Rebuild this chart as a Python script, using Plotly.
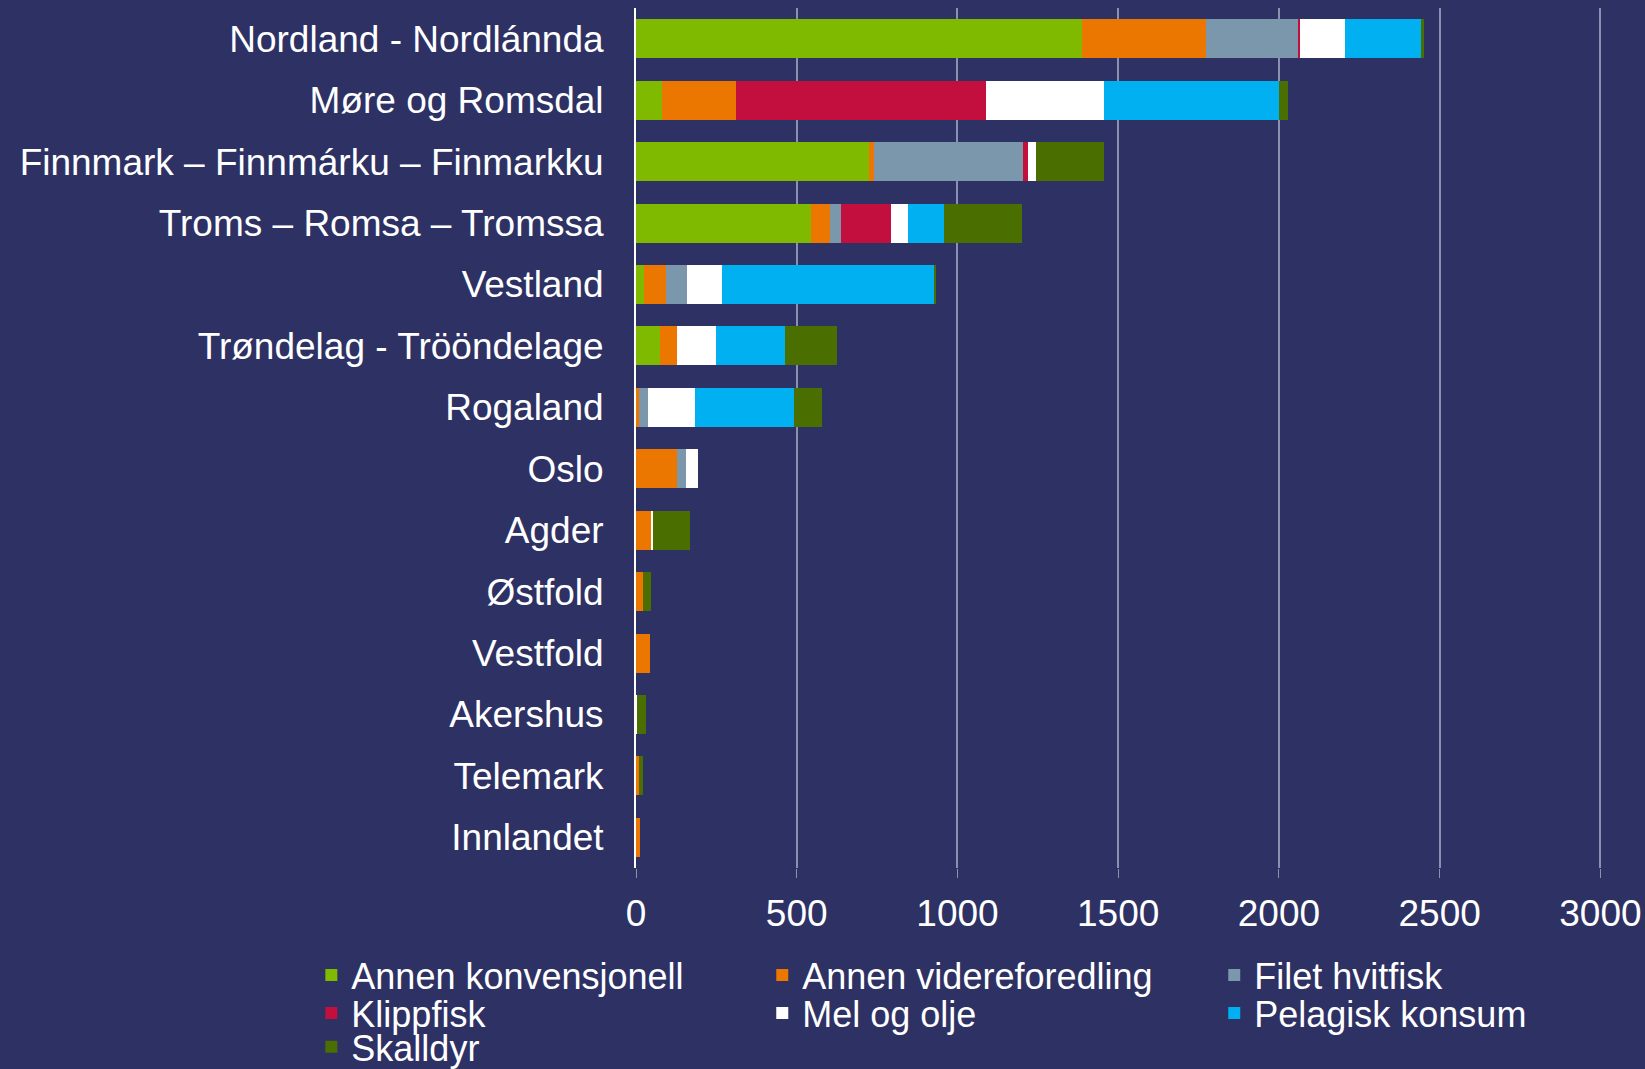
import plotly.graph_objects as go

# =========================================
# DATA
# =========================================

fylker = [
    "Nordland - Nordlánnda",
    "Møre og Romsdal",
    "Finnmark – Finnmárku – Finmarkku",
    "Troms – Romsa – Tromssa",
    "Vestland",
    "Trøndelag - Trööndelage",
    "Rogaland",
    "Oslo",
    "Agder",
    "Østfold",
    "Vestfold",
    "Akershus",
    "Telemark",
    "Innlandet",
]

annen_konvensjonell = [1387, 81, 726, 543, 25, 74, 0, 0, 0, 0, 0, 0, 0, 0]
annen_videreforedling = [386, 231, 13, 60, 68, 52, 10, 127, 49, 23, 45, 0, 10, 13]
filet_hvitfisk = [285, 0, 464, 36, 66, 0, 28, 27, 0, 0, 0, 0, 0, 0]
klippfisk = [8, 778, 15, 154, 0, 0, 0, 0, 0, 0, 0, 0, 0, 0]
mel_og_olje = [140, 366, 26, 52, 107, 124, 146, 40, 3, 0, 0, 2, 0, 0]
pelagisk_konsum = [236, 545, 0, 112, 662, 214, 308, 0, 0, 0, 0, 0, 0, 0]
skalldyr = [10, 26, 212, 243, 6, 161, 88, 0, 117, 24, 0, 28, 13, 0]

serier = [
    ("Annen konvensjonell", annen_konvensjonell, "#7FBA00"),
    ("Annen videreforedling", annen_videreforedling, "#EC7700"),
    ("Filet hvitfisk", filet_hvitfisk, "#7B97AB"),
    ("Klippfisk", klippfisk, "#C30F3E"),
    ("Mel og olje", mel_og_olje, "#FFFFFF"),
    ("Pelagisk konsum", pelagisk_konsum, "#00B0F0"),
    ("Skalldyr", skalldyr, "#4A6E00"),
]

# legendeplassering: 3 kolonner, 3 rader (paper-koordinater)
leg_kol = [-0.3361, 0.1307, 0.5986]
leg_rad = [-0.1244, -0.1686, -0.2080]

BG = "#2E3164"
GRID = "#8A90B0"
FONT = "Liberation Sans, Arial, sans-serif"

# =========================================
# GRAFIKK
# =========================================

fig = go.Figure()
legender = {}
for i, (navn, verdier, farge) in enumerate(serier):
    leg = "legend" if i == 0 else "legend%d" % (i + 1)
    fig.add_trace(go.Bar(
        y=fylker,
        x=verdier,
        name=navn,
        orientation="h",
        marker=dict(color=farge, line=dict(width=0)),
        legend=leg,
    ))
    legender[leg] = dict(
        x=leg_kol[i % 3],
        y=leg_rad[i // 3],
        xanchor="left",
        yanchor="middle",
        font=dict(family=FONT, size=36, color="white"),
        bgcolor="rgba(0,0,0,0)",
        itemclick=False,
    )

fig.update_layout(
    barmode="stack",
    bargap=0.365,
    width=1645,
    height=1069,
    showlegend=True,
    margin=dict(l=636, r=43, t=8, b=201, autoexpand=False),
    paper_bgcolor=BG,
    plot_bgcolor=BG,
    font=dict(family=FONT, size=37, color="white"),
    **legender,
)

fig.update_xaxes(
    range=[0, 3005],
    tickvals=[0, 500, 1000, 1500, 2000, 2500, 3000],
    showgrid=True,
    gridcolor=GRID,
    gridwidth=2,
    zeroline=False,
    ticks="outside",
    ticklen=9,
    tickwidth=1,
    tickcolor=GRID,
    ticklabelstandoff=4,
    tickfont=dict(size=37, color="white"),
    showline=False,
)

fig.update_yaxes(
    autorange="reversed",
    showline=True,
    linecolor="white",
    linewidth=2,
    showgrid=False,
    ticks="",
    ticklabelstandoff=23,
    tickfont=dict(size=37, color="white"),
)

fig.write_html(
    "out.html",
    config={"displayModeBar": False},
    post_script="document.body.style.margin='0';document.body.style.overflow='hidden';",
)
